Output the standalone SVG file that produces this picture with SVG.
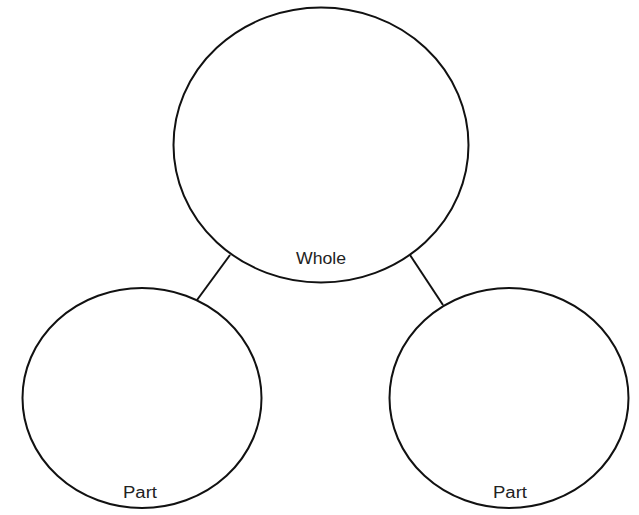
<svg xmlns="http://www.w3.org/2000/svg" width="639" height="515" viewBox="0 0 639 515">
<style>
.node{fill:#fff;stroke:#111;stroke-width:2}
.conn{stroke:#111;stroke-width:2;fill:none}
.lbl{font-family:"Liberation Sans",Arial,sans-serif;font-size:16px;fill:#222;text-anchor:middle}
</style>
<rect width="639" height="515" fill="#fff"/>
<g id="connectors">
<line class="conn" x1="230" y1="255" x2="197" y2="300"/>
<line class="conn" x1="410" y1="255" x2="443" y2="305"/>
</g>
<g id="whole">
<ellipse class="node" cx="321" cy="145" rx="147.5" ry="137.5"/>
<text class="lbl" x="321" y="264" textLength="50" lengthAdjust="spacingAndGlyphs">Whole</text>
</g>
<g id="part-left">
<ellipse class="node" cx="142" cy="398" rx="119.5" ry="110"/>
<text class="lbl" x="140" y="498" textLength="34" lengthAdjust="spacingAndGlyphs">Part</text>
</g>
<g id="part-right">
<ellipse class="node" cx="509" cy="398" rx="119.5" ry="110"/>
<text class="lbl" x="510" y="498" textLength="34" lengthAdjust="spacingAndGlyphs">Part</text>
</g>
</svg>
